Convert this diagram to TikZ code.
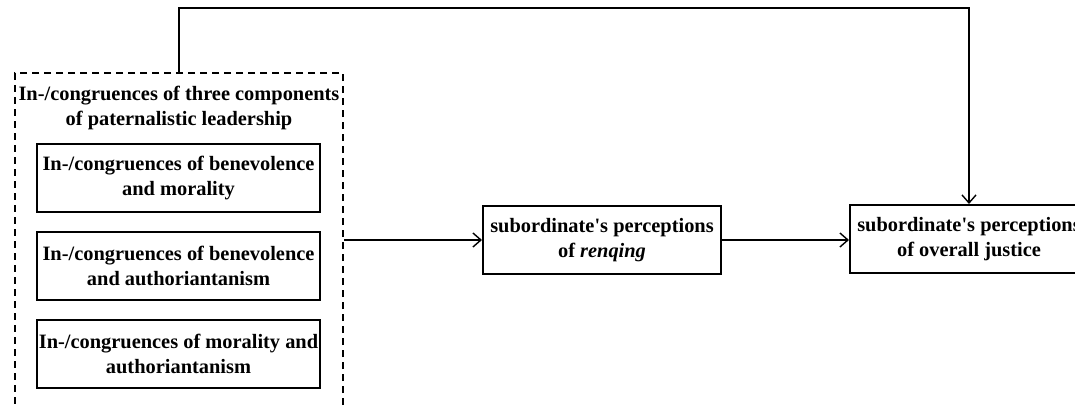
\documentclass[tikz,border=0pt]{standalone}
\usepackage{fontspec}
\setmainfont{Liberation Serif}[Ligatures=TeXOff]
\usetikzlibrary{arrows, arrows.meta}
\usetikzlibrary{calc}

\begin{document}
\begin{tikzpicture}[x=0.5pt, y=-0.5pt,
    txt/.style={font=\fontsize{10.2}{12.5}\selectfont\bfseries, align=center, inner sep=0pt},
    box/.style={txt, draw, line width=1pt, minimum height=34pt},
    smallbox/.style={box, minimum width=141.5pt},
    widebox/.style={box, minimum width=119pt},
    arr/.style={-{Straight Barb[length=4pt, width=7pt]}, line width=0.7pt}]
      \useasboundingbox (0,0) rectangle (1075,407);
      \clip (0,0) rectangle (1075,407);

      % group of the three in-/congruences
      \node[draw, dash pattern=on 3.5pt off 2.5pt, line width=1pt, minimum width=164pt, minimum height=176pt, inner sep=0pt] (grp) at (179,249) {};
      \node[txt] (title) at (179,108) {In-/congruences of three components\\of paternalistic leadership};
      \node[smallbox] (bm) at (178.5,178) {In-/congruences of benevolence\\and morality};
      \node[smallbox] (ba) at (178.5,266) {In-/congruences of benevolence\\and authoriantanism};
      \node[smallbox] (ma) at (178.5,354) {In-/congruences of morality and\\authoriantanism};

      \node[widebox] (renqing) at (602,240) {subordinate's perceptions\\of \textit{renqing}};
      \node[widebox] (justice) at (969,239) {subordinate's perceptions\\of overall justice};

      \coordinate (top) at (0,8);

      \draw[arr] (grp.east |- renqing.west) -- (renqing.west);
      \draw[arr] (renqing.east) -- (justice.west |- renqing.east);
      \draw[arr] (grp.north) -- (grp.north |- top) -- (justice.north |- top) -- (justice.north);
\end{tikzpicture}
\end{document}
